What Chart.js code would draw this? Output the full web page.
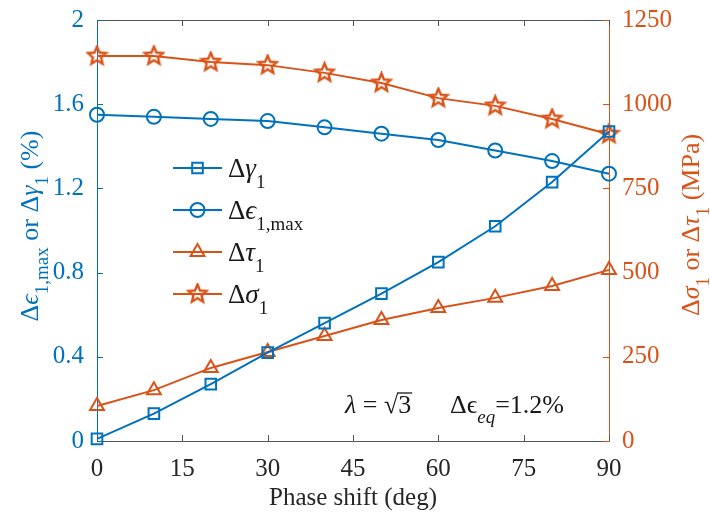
<!DOCTYPE html>
<html>
<head>
<meta charset="utf-8">
<script src="https://cdn.jsdelivr.net/npm/chart.js@4"></script>
<style>
  html, body { margin: 0; padding: 0; background: #fff; }
</style>
</head>
<body>
<canvas id="chart" width="710" height="517"></canvas>
<script>
// ===== DATA =====
const phaseShift = [0, 10, 20, 30, 40, 50, 60, 70, 80, 90];
const dGamma1  = [0.01, 0.13, 0.27, 0.42, 0.56, 0.70, 0.85, 1.02, 1.23, 1.47];
const dEps1Max = [1.55, 1.54, 1.53, 1.52, 1.49, 1.46, 1.43, 1.38, 1.33, 1.27];
const dTau1    = [104, 151, 217, 264, 312, 359, 395, 425, 460, 508];
const dSigma1  = [1143, 1143, 1125, 1116, 1093, 1063, 1018, 995, 956, 911];
const xTicks     = [0, 15, 30, 45, 60, 75, 90];
const leftTicks  = [0, 0.4, 0.8, 1.2, 1.6, 2];
const rightTicks = [0, 250, 500, 750, 1000, 1250];

const BLUE = '#0072BD';
const ORANGE = '#D95319';
const SERIF = '"Liberation Serif", "Times New Roman", "DejaVu Serif", serif';

// MATLAB-like hollow pentagram marker
function makeStar(color) {
  const r = 9.5, s = 2 * r + 4;
  const c = document.createElement('canvas');
  c.width = c.height = s;
  const g = c.getContext('2d');
  g.beginPath();
  for (let i = 0; i < 10; i++) {
    const a = -Math.PI / 2 + i * Math.PI / 5;
    const rr = i % 2 ? r * 0.45 : r;
    g.lineTo(s / 2 + rr * Math.cos(a), s / 2 + rr * Math.sin(a));
  }
  g.closePath();
  g.strokeStyle = color;
  g.lineWidth = 2.4;
  g.stroke();
  return c;
}
const starMarker = makeStar(ORANGE);

const pts = ys => phaseShift.map((x, i) => ({ x: x, y: ys[i] }));

const datasets = [
  { label: 'Δγ1', data: pts(dGamma1), yAxisID: 'y', borderColor: BLUE, pointStyle: 'rect', pointRadius: 7.5,
    legend: [['Δ', ''], ['γ', 'i'], ['1', 's']] },
  { label: 'Δϵ1,max', data: pts(dEps1Max), yAxisID: 'y', borderColor: BLUE, pointStyle: 'circle', pointRadius: 7,
    legend: [['Δ', ''], ['ϵ', 'i'], ['1,max', 's']] },
  { label: 'Δτ1', data: pts(dTau1), yAxisID: 'y1', borderColor: ORANGE, pointStyle: 'triangle', pointRadius: 8,
    legend: [['Δ', ''], ['τ', 'i'], ['1', 's']] },
  { label: 'Δσ1', data: pts(dSigma1), yAxisID: 'y1', borderColor: ORANGE, pointStyle: starMarker, pointRadius: 9,
    legend: [['Δ', ''], ['σ', 'i'], ['1', 's']] }
].map(d => Object.assign({
  borderWidth: 2,
  pointBorderColor: d.borderColor,
  pointBackgroundColor: 'rgba(0,0,0,0)',
  pointBorderWidth: 2,
  tension: 0
}, d));

// text runs with subscripts / italics
function fontFor(k, size) {
  const sz = k.includes('s') ? Math.round(size * 0.72) : size;
  return (k.includes('i') ? 'italic ' : '') + sz + 'px ' + SERIF;
}
function richWidth(ctx, parts, size) {
  let w = 0;
  parts.forEach(([t, k]) => {
    ctx.font = fontFor(k, size);
    w += ctx.measureText(t).width;
  });
  return w;
}
function drawRich(ctx, parts, x, y, size) {
  parts.forEach(([t, k]) => {
    ctx.font = fontFor(k, size);
    const dy = k.includes('s') ? size * 0.4 : 0;
    ctx.fillText(t, x, y + dy);
    x += ctx.measureText(t).width;
  });
  return x;
}

const framePlugin = {
  id: 'frame',
  beforeDatasetsDraw(chart) {
    const { ctx, chartArea: a, scales } = chart;
    ctx.save();
    ctx.lineWidth = 1;
    ctx.strokeStyle = '#555';
    ctx.beginPath();
    ctx.moveTo(a.left, a.top + 0.5);
    ctx.lineTo(a.right, a.top + 0.5);
    ctx.stroke();
    const L = 6;
    xTicks.forEach(v => {
      const px = Math.round(scales.x.getPixelForValue(v)) + 0.5;
      ctx.beginPath();
      ctx.moveTo(px, a.bottom); ctx.lineTo(px, a.bottom - L);
      ctx.moveTo(px, a.top); ctx.lineTo(px, a.top + L);
      ctx.stroke();
    });
    ctx.strokeStyle = BLUE;
    leftTicks.forEach(v => {
      const py = Math.round(scales.y.getPixelForValue(v)) + 0.5;
      ctx.beginPath(); ctx.moveTo(a.left, py); ctx.lineTo(a.left + L, py); ctx.stroke();
    });
    ctx.strokeStyle = ORANGE;
    rightTicks.forEach(v => {
      const py = Math.round(scales.y1.getPixelForValue(v)) + 0.5;
      ctx.beginPath(); ctx.moveTo(a.right, py); ctx.lineTo(a.right - L, py); ctx.stroke();
    });
    ctx.restore();
  },
  afterDraw(chart) {
    const { ctx } = chart;
    ctx.save();
    ctx.textBaseline = 'alphabetic';

    // rotated axis titles
    const titles = [
      { parts: [['Δ', ''], ['ϵ', 'i'], ['1,max', 's'], [' or Δ', ''], ['γ', 'i'], ['1', 's'], [' (%)', '']],
        cx: 38, cy: 226, color: BLUE },
      { parts: [['Δ', ''], ['σ', 'i'], ['1', 's'], [' or Δ', ''], ['τ', 'i'], ['1', 's'], [' (MPa)', '']],
        cx: 699, cy: 225, color: ORANGE }
    ];
    titles.forEach(t => {
      const size = 26;
      ctx.save();
      ctx.translate(t.cx, t.cy);
      ctx.rotate(-Math.PI / 2);
      ctx.fillStyle = t.color;
      const w = richWidth(ctx, t.parts, size);
      drawRich(ctx, t.parts, -w / 2, 0, size);
      ctx.restore();
    });

    // legend
    const lx0 = 173, lx1 = 222, tx = 228, y0 = 168, dy = 42;
    chart.data.datasets.forEach((ds, i) => {
      const y = y0 + i * dy;
      ctx.strokeStyle = ds.borderColor;
      ctx.lineWidth = 2;
      ctx.beginPath(); ctx.moveTo(lx0, y); ctx.lineTo(lx1, y); ctx.stroke();
      ctx.fillStyle = 'rgba(0,0,0,0)';
      ctx.lineWidth = ds.pointBorderWidth;
      Chart.helpers.drawPoint(ctx, { pointStyle: ds.pointStyle, radius: ds.pointRadius, rotation: 0, borderWidth: ds.pointBorderWidth },
        (lx0 + lx1) / 2, y);
      ctx.fillStyle = '#1a1a1a';
      drawRich(ctx, ds.legend, tx, y + 9, 27);
    });

    // annotation
    ctx.fillStyle = '#1a1a1a';
    let x = 345;
    const by = 413;
    ctx.font = 'italic 26px ' + SERIF;
    ctx.fillText('λ', x, by); x += ctx.measureText('λ').width;
    ctx.font = '26px ' + SERIF;
    ctx.fillText(' = ', x, by); x += ctx.measureText(' = ').width;
    ctx.fillText('√', x, by); x += ctx.measureText('√').width;
    const w3 = ctx.measureText('3').width;
    ctx.fillText('3', x, by);
    ctx.strokeStyle = '#1a1a1a'; ctx.lineWidth = 1.3;
    ctx.beginPath(); ctx.moveTo(x - 1, by - 20); ctx.lineTo(x + w3 + 1, by - 20); ctx.stroke();
    x = 450;
    drawRich(ctx, [['Δϵ', ''], ['eq', 'si'], ['=1.2%', '']], x, by, 26);

    ctx.restore();
  }
};

const tickFont = { family: SERIF, size: 25 };
const plain = v => String(v);

new Chart(document.getElementById('chart'), {
  type: 'line',
  data: { datasets: datasets },
  options: {
    responsive: false,
    devicePixelRatio: 1,
    animation: false,
    clip: false,
    layout: { padding: { top: 20, left: 0, right: 0, bottom: 0 } },
    plugins: { legend: { display: false }, tooltip: { enabled: false } },
    scales: {
      x: {
        type: 'linear', min: 0, max: 90,
        afterBuildTicks: s => { s.ticks = xTicks.map(v => ({ value: v })); },
        afterFit: s => { s.height = 76; },
        grid: { display: false },
        border: { color: '#555', width: 1 },
        ticks: { font: tickFont, color: '#262626', padding: 5, maxRotation: 0, callback: plain },
        title: { display: true, text: 'Phase shift (deg)', font: tickFont, color: '#262626', padding: { top: 0 } }
      },
      y: {
        position: 'left', min: 0, max: 2,
        afterBuildTicks: s => { s.ticks = leftTicks.map(v => ({ value: v })); },
        afterFit: s => { s.width = 97; },
        grid: { display: false },
        border: { color: BLUE, width: 1 },
        ticks: { font: tickFont, color: BLUE, padding: 5, callback: plain }
      },
      y1: {
        position: 'right', min: 0, max: 1250,
        afterBuildTicks: s => { s.ticks = rightTicks.map(v => ({ value: v })); },
        afterFit: s => { s.width = 101; },
        grid: { display: false },
        border: { color: ORANGE, width: 1 },
        ticks: { font: tickFont, color: ORANGE, padding: 5, callback: plain }
      }
    }
  },
  plugins: [framePlugin]
});
</script>
</body>
</html>
